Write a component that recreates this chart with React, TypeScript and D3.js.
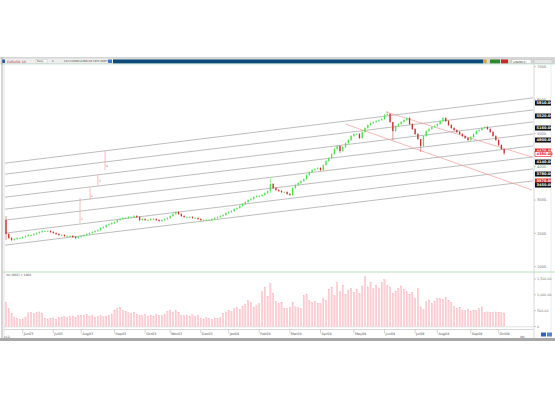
import React from 'react';
import * as d3 from 'd3';

// ---------- DATA ----------
const firstOpen = 2400;
const closes = [
  1980, 1860, 1800, 1830, 1860, 1860, 1890, 1920, 1950, 1950,
  1980, 2010, 2040, 2070, 2070, 2070, 2040, 2010, 1980, 1950,
  1950, 1920, 1920, 1920, 1890, 1860, 1890, 1920, 1950, 1980,
  2010, 2040, 2070, 2100, 2160, 2190, 2250, 2280, 2310, 2340,
  2400, 2430, 2460, 2460, 2490, 2490, 2520, 2490, 2400, 2430,
  2400, 2400, 2430, 2430, 2400, 2370, 2400, 2430, 2460, 2520,
  2580, 2640, 2580, 2520, 2490, 2490, 2490, 2460, 2460, 2430,
  2400, 2400, 2400, 2400, 2430, 2460, 2490, 2520, 2550, 2610,
  2640, 2670, 2730, 2760, 2820, 2880, 2940, 3000, 3030, 3090,
  3120, 3120, 3150, 3210, 3270, 3480, 3360, 3300, 3270, 3240,
  3240, 3180, 3150, 3360, 3450, 3510, 3570, 3630, 3750, 3840,
  3900, 3930, 3960, 3900, 4050, 4170, 4260, 4380, 4530, 4620,
  4470, 4590, 4710, 4800, 4920, 4980, 4980, 4860, 5040, 5160,
  5250, 5310, 5340, 5370, 5400, 5430, 5550, 5580, 5340, 5070,
  5220, 5280, 5340, 5400, 5460, 5280, 5130, 4980, 4830, 4620,
  4920, 5070, 5130, 5190, 5220, 5280, 5370, 5460, 5370, 5250,
  5160, 5100, 5040, 4980, 4920, 4860, 4800, 4890, 4980, 5070,
  5100, 5160, 5190, 5130, 5040, 4920, 4800, 4650, 4530, 4410,
];
// [bar index, high, low] for bars with long shadows
const shadowBars: [number, number, number][] = [
  [0, 2520, 1800], [95, 3660, 3210], [120, 4650, 4410], [137, 5670, 5520],
  [139, 5340, 4800], [149, 4830, 4440], [179, 4530, 4350],
];
const volumes = [
  770, 560, 420, 280, 250, 220, 240, 300, 430, 450,
  400, 440, 460, 420, 260, 240, 250, 270, 230, 290,
  300, 320, 280, 310, 330, 290, 350, 360, 340, 370,
  330, 350, 300, 320, 340, 310, 330, 360, 390, 520,
  580, 610, 500, 470, 440, 420, 450, 390, 350, 340,
  370, 330, 360, 320, 380, 350, 340, 370, 480, 520,
  460, 500, 440, 360, 340, 350, 330, 370, 320, 340,
  260, 240, 280, 250, 230, 270, 250, 290, 420, 460,
  510, 470, 560, 600, 540, 640, 700, 820, 760, 600,
  680, 720, 1100, 1250, 950, 1350, 1050, 780, 720, 760,
  580, 560, 600, 760, 620, 600, 580, 990, 1000, 820,
  770, 800, 740, 730, 900, 820, 1180, 1250, 980, 1380,
  1100, 1310, 1000, 1150, 1200, 1080, 1180, 1050, 1280, 1570,
  1250, 1380, 1200, 1300, 1220, 1380, 1480, 1300, 1250, 1050,
  1120, 1200, 1280, 1180, 1100, 1020, 1080, 900, 1200, 620,
  540, 780, 840, 720, 800, 900, 880, 860, 920, 820,
  760, 640, 560, 600, 520, 500, 540, 480, 520, 500,
  560, 620, 440, 460, 450, 440, 460, 450, 440, 430,
];
const channelLeft = [4110, 3780, 3420, 3090, 2730, 2400, 2010, 1650];
const channelRight = [6060, 5700, 5340, 4980, 4620, 4290, 3930, 3570];
// trend lines: [index0, price0, index1, price1]
const trendLines: [number, number, number, number][] = [
  [136.5, 5640, 189, 4290],
  [122, 5280, 189, 3300],
];
// stepped vertical marks: [index, top price, bottom price]
const stepMarks: [number, number, number, string][] = [
  [26.6, 3060, 2310, '1'],
  [30.2, 3360, 3000, '2'],
  [33.0, 3750, 3450, '3'],
  [35.6, 4470, 3900, '4'],
];
const monthLabels = ['Jun03', 'Jul03', 'Aug03', 'Sep03', 'Oct03', 'Nov03', 'Dec03', 'Jan04', 'Feb04',
  'Mar04', 'Apr04', 'May04', 'Jun04', 'Jul04', 'Aug04', 'Sep04', 'Oct04'];
const monthIndex = [6, 17, 27, 39, 50, 59, 70, 80, 91, 102, 113, 125, 136, 147, 155, 167, 177];
const priceTicks = [1000, 2000, 3000, 4000, 5000, 6000, 7000];
const volumeTicks = [0, 500, 1000, 1500];
const markerValues = [5910, 5520, 5160, 4800, 4470, 4380, 4140, 3780, 3570, 3450];
const markerKinds = ['k', 'k', 'k', 'k', 'r', 'o', 'k', 'k', 'r', 'k'];

// ---------- LAYOUT ----------
const W = 555, H = 400;
const plotL = 5, plotR = 533;
const FONT = 'DejaVu Sans, Liberation Sans, sans-serif';

export default function App() {
  const x = d3.scaleLinear().domain([0, 189]).range([6, 532]);
  const y = d3.scaleLinear().domain([1000, 7000]).range([266.7, 66.7]);
  const yv = d3.scaleLinear().domain([0, 1500]).range([326.5, 279]);

  const lineAt = (i0: number, p0: number, i1: number, p1: number, i: number) =>
    p0 + ((p1 - p0) * (i - i0)) / (i1 - i0);
  const iL = x.invert(plotL), iR = x.invert(plotR);

  const bars = closes.map((c, i) => {
    const o = i === 0 ? firstOpen : closes[i - 1];
    const s = shadowBars.find((b) => b[0] === i);
    const hi = s ? s[1] : Math.max(o, c) + 30;
    const lo = s ? s[2] : Math.min(o, c) - 30;
    return { i, o, c, hi, lo };
  });

  const bw = 1.3;

  return (
    <svg width={W} height={H} style={{ position: 'absolute', left: 0, top: 0, background: '#fff' }}
      fontFamily={FONT}>
      {/* toolbar */}
      <rect x={0} y={57} width={W} height={7} fill="#d6d6d6" />
      <rect x={0} y={58.5} width={113} height={5} fill="#eeeeee" />
      <rect x={113} y={59.5} width={370} height={4} fill="#0d4a7c" />
      <rect x={2} y={59.5} width={3} height={3.5} fill="#2a58a8" />
      <text x={7} y={62.6} fontSize={3.2} fill="#b03030">EURUSD 1D</text>
      <rect x={36} y={59.5} width={11} height={3.5} fill="#fff" stroke="#aaa" strokeWidth={0.3} />
      <text x={37} y={62.4} fontSize={2.6} fill="#333">Daily</text>
      <text x={52} y={62.4} fontSize={2.6} fill="#333">1</text>
      <text x={64} y={62.4} fontSize={2.6} fill="#333">C1H  H1366  L1366  C0.7472  10/07</text>
      <rect x={108} y={59.5} width={4} height={3.5} fill="#3a7ad0" />
      <rect x={483} y={59.5} width={3.5} height={4} fill="#e8a030" />
      <rect x={490} y={59.5} width={10} height={4} fill="#2b8a2b" />
      <rect x={501} y={59.5} width={7} height={4} fill="#c82828" />
      <rect x={512} y={59.5} width={19} height={4} fill="#fff" stroke="#999" strokeWidth={0.3} />
      <text x={513} y={62.6} fontSize={2.6} fill="#333">#NAME(1)</text>
      <rect x={534} y={59.5} width={18} height={4} fill="#e6e6e6" stroke="#aaa" strokeWidth={0.3} />
      <line x1={0} x2={W} y1={64} y2={64} stroke="#bfe3cf" strokeWidth={0.8} />

      {/* frame */}
      <line x1={2} x2={2} y1={57} y2={341} stroke="#999" strokeWidth={0.8} />
      <line x1={4} x2={4} y1={64} y2={338} stroke="#ccc" strokeWidth={0.6} />
      <line x1={plotR + 1} x2={plotR + 1} y1={64} y2={338} stroke="#c8c8c8" strokeWidth={0.7} />
      <line x1={551} x2={551} y1={64} y2={338} stroke="#ddd" strokeWidth={0.6} />

      {/* price axis ticks */}
      {priceTicks.map((t) => (
        <g key={t}>
          <line x1={plotR + 1} x2={plotR + 3} y1={y(t)} y2={y(t)} stroke="#999" strokeWidth={0.5} />
          <text x={537} y={y(t) + 1.3} fontSize={3.6} fill="#777">{t}.</text>
        </g>
      ))}

      {/* channel lines */}
      {channelLeft.map((pl, k) => {
        const pr = channelRight[k];
        return (
          <line key={k} x1={plotL} x2={plotR}
            y1={y(lineAt(0, pl, 189, pr, iL))} y2={y(lineAt(0, pl, 189, pr, iR))}
            stroke="#a0a0a0" strokeWidth={0.7} />
        );
      })}

      {/* trend lines */}
      {trendLines.map(([i0, p0, i1, p1], k) => (
        <line key={k} x1={x(i0)} x2={x(i1)} y1={y(p0)} y2={y(p1)} stroke="#f29a9a" strokeWidth={0.7} />
      ))}

      {/* step marks */}
      {stepMarks.map(([i, top, bot, lab], k) => (
        <g key={k}>
          <line x1={x(i)} x2={x(i)} y1={y(top)} y2={y(bot)} stroke="#f0a0a8" strokeWidth={0.7} />
          <text x={x(i) + 1} y={y(bot) - 3} fontSize={3} fill="#c06060">{lab}</text>
        </g>
      ))}

      {/* candles */}
      {bars.map((b) => {
        const up = b.c >= b.o;
        const col = up ? '#4fe04f' : '#c83030';
        const yTop = y(Math.max(b.o, b.c));
        const yBot = y(Math.min(b.o, b.c));
        return (
          <g key={b.i}>
            <line x1={x(b.i)} x2={x(b.i)} y1={y(b.hi)} y2={y(b.lo)} stroke={col} strokeWidth={0.5} />
            <rect x={x(b.i) - bw / 2} y={yTop} width={bw} height={Math.max(0.8, yBot - yTop)} fill={col} />
          </g>
        );
      })}

      {/* axis markers */}
      {markerValues.map((v, k) => {
        const kind = markerKinds[k];
        const fill = kind === 'k' ? '#111' : kind === 'r' ? '#e02020' : '#fff';
        const stroke = kind === 'o' ? '#e02020' : 'none';
        const tc = kind === 'o' ? '#e02020' : '#fff';
        return (
          <g key={k}>
            <rect x={535} y={y(v) - 2.5} width={16} height={5} fill={fill} stroke={stroke} strokeWidth={0.6} />
            <text x={536.5} y={y(v) + 1.4} fontSize={3.6} fill={tc} fontWeight="bold">{v.toFixed(2)}</text>
          </g>
        );
      })}

      {/* volume panel */}
      <line x1={3} x2={W} y1={272} y2={272} stroke="#a8d8a8" strokeWidth={0.8} />
      <text x={6} y={275.5} fontSize={3} fill="#555">Vol (NSE) x 1000</text>
      {volumes.map((v, i) => (
        <rect key={i} x={x(i) - 0.65} y={yv(v)} width={1.3} height={yv(0) - yv(v)}
          fill="#fdd0d6" stroke="#f7b0ba" strokeWidth={0.3} />
      ))}
      <line x1={4} x2={plotR} y1={yv(0) + 0.3} y2={yv(0) + 0.3} stroke="#cfcfcf" strokeWidth={0.6} />
      {volumeTicks.map((t) => (
        <g key={t}>
          <line x1={plotR + 1} x2={plotR + 3} y1={yv(t)} y2={yv(t)} stroke="#999" strokeWidth={0.5} />
          <text x={537} y={yv(t) + 1.2} fontSize={3.3} fill="#777">{t === 0 ? '0' : d3.format(',.2f')(t)}</text>
        </g>
      ))}

      {/* date axis */}
      <line x1={4} x2={plotR} y1={329.5} y2={329.5} stroke="#bbb" strokeWidth={0.6} />
      {monthIndex.map((mi, k) => (
        <g key={k}>
          <line x1={x(mi)} x2={x(mi)} y1={329.5} y2={333.5} stroke="#aaa" strokeWidth={0.5} />
          <text x={x(mi) + 1} y={335.3} fontSize={3.4} fill="#555">{monthLabels[k]}</text>
        </g>
      ))}

      {/* bottom bar */}
      <text x={4} y={337.5} fontSize={3} fill="#555">x12</text>
      <text x={520} y={337.5} fontSize={3} fill="#555">dbl</text>
      <rect x={541} y={332.5} width={5} height={4} fill="#3860b8" />
      <rect x={547} y={332.5} width={5} height={4} fill="#5a80d0" />
      <rect x={0} y={338} width={W} height={3} fill="#a8a8a8" />
    </svg>
  );
}
